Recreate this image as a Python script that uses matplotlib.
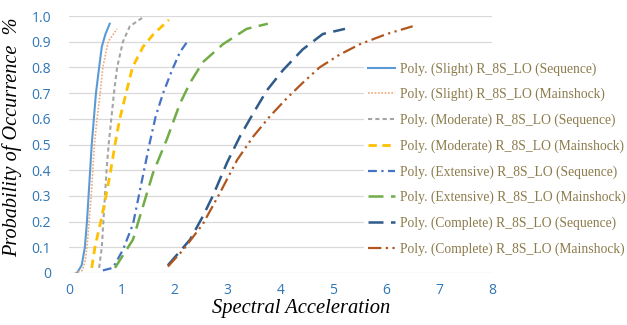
import matplotlib
matplotlib.use('Agg')
import matplotlib.pyplot as plt

# values (spectral acceleration vs probability)
slight_seq_x = [0.15, 0.24, 0.30, 0.34, 0.37, 0.40, 0.43, 0.47, 0.51, 0.57, 0.62, 0.69, 0.77]
slight_seq_y = [0.00, 0.03, 0.10, 0.20, 0.30, 0.40, 0.50, 0.60, 0.70, 0.80, 0.88, 0.93, 0.97]
slight_main_x = [0.11, 0.25, 0.30, 0.34, 0.38, 0.42, 0.45, 0.48, 0.53, 0.59, 0.64, 0.74, 0.91]
slight_main_y = [0.00, 0.01, 0.04, 0.10, 0.20, 0.30, 0.40, 0.50, 0.60, 0.70, 0.80, 0.90, 0.95]
mod_seq_x = [0.57, 0.62, 0.65, 0.68, 0.71, 0.75, 0.80, 0.85, 0.91, 1.02, 1.15, 1.40]
mod_seq_y = [0.02, 0.10, 0.20, 0.30, 0.40, 0.50, 0.60, 0.70, 0.80, 0.90, 0.96, 0.995]
mod_main_x = [0.43, 0.49, 0.60, 0.70, 0.79, 0.87, 0.96, 1.08, 1.20, 1.40, 1.60, 1.89]
mod_main_y = [0.02, 0.10, 0.20, 0.30, 0.40, 0.50, 0.60, 0.70, 0.80, 0.88, 0.93, 0.985]
ext_seq_x = [0.64, 0.83, 1.02, 1.21, 1.32, 1.43, 1.53, 1.64, 1.78, 1.95, 2.10, 2.27]
ext_seq_y = [0.01, 0.02, 0.09, 0.19, 0.30, 0.41, 0.51, 0.61, 0.70, 0.79, 0.86, 0.91]
ext_main_x = [0.87, 1.21, 1.40, 1.59, 1.85, 2.10, 2.29, 2.53, 2.91, 3.36, 3.76]
ext_main_y = [0.02, 0.13, 0.26, 0.39, 0.52, 0.66, 0.74, 0.82, 0.89, 0.95, 0.97]
comp_seq_x = [1.87, 2.29, 2.53, 2.72, 2.99, 3.23, 3.48, 3.74, 4.05, 4.42, 4.80, 5.22]
comp_seq_y = [0.03, 0.13, 0.22, 0.30, 0.43, 0.53, 0.62, 0.71, 0.79, 0.87, 0.93, 0.95]
comp_main_x = [1.87, 2.16, 2.53, 2.85, 3.18, 3.48, 3.80, 4.12, 4.42, 4.74, 5.12, 5.50, 6.01, 6.50]
comp_main_y = [0.025, 0.09, 0.19, 0.31, 0.44, 0.53, 0.61, 0.68, 0.74, 0.80, 0.85, 0.89, 0.93, 0.96]

labels = ['Poly. (Slight) R_8S_LO (Sequence)',
          'Poly. (Slight) R_8S_LO (Mainshock)',
          'Poly. (Moderate) R_8S_LO (Sequence)',
          'Poly. (Moderate) R_8S_LO (Mainshock)',
          'Poly. (Extensive) R_8S_LO (Sequence)',
          'Poly. (Extensive) R_8S_LO (Mainshock)',
          'Poly. (Complete) R_8S_LO (Sequence)',
          'Poly. (Complete) R_8S_LO (Mainshock)']

xticks = [0, 1, 2, 3, 4, 5, 6, 7, 8]
yticks = [0, 0.1, 0.2, 0.3, 0.4, 0.5, 0.6, 0.7, 0.8, 0.9, 1.0]
yticklabels = ['0', '0.1', '0.2', '0.3', '0.4', '0.5', '0.6', '0.7', '0.8', '0.9', '1.0']

series = [
    (slight_seq_x, slight_seq_y, '#5B9BD5', '-', 1.5),
    (slight_main_x, slight_main_y, '#F0A878', (0, (1, 1)), 1.2),
    (mod_seq_x, mod_seq_y, '#A5A5A5', (0, (2, 1.5)), 1.5),
    (mod_main_x, mod_main_y, '#FFC000', (0, (3, 2)), 2.0),
    (ext_seq_x, ext_seq_y, '#4472C4', (0, (4, 2, 1, 2)), 1.6),
    (ext_main_x, ext_main_y, '#70AD47', (0, (6, 3)), 1.8),
    (comp_seq_x, comp_seq_y, '#2F5B8A', (0, (6, 3)), 1.8),
    (comp_main_x, comp_main_y, '#B0561E', (0, (6, 2, 1, 2, 1, 2)), 1.6),
]

fig = plt.figure(figsize=(6.27, 3.25), dpi=100, facecolor='white')
ax = fig.add_axes([69/627., 1-273/325., (492-69)/627., (273-16)/325.])

for (xs, ys, c, ls, lw), lab in zip(series, labels):
    ax.plot(xs, ys, color=c, linestyle=ls, linewidth=lw, label=lab)

ax.set_xlim(0, 8)
ax.set_ylim(0, 1.0)
ax.set_xticks(xticks)
ax.set_yticks(yticks)
ax.set_yticklabels(yticklabels)
ax.grid(axis='y', color='#D9D9D9', linewidth=0.9)
ax.set_axisbelow(True)
for s in ax.spines.values():
    s.set_visible(False)
ax.tick_params(length=0, colors='#2E75B6', labelsize=10)
ax.tick_params(axis='x', pad=7)
ax.tick_params(axis='y', pad=13)
for t in ax.get_xticklabels() + ax.get_yticklabels():
    t.set_family('Open Sans')

ax.set_xlabel('Spectral Acceleration', family='Liberation Serif', style='italic',
              fontsize=14.8, color='black')
ax.xaxis.set_label_coords(0.548, -0.1)
ax.set_ylabel('Probability of Occurrence  %', family='Liberation Serif', style='italic',
              fontsize=14.6, color='black')
ax.yaxis.set_label_coords(-0.112, 0.53)

leg = ax.legend(loc='upper left', bbox_to_anchor=(364/627., 1-58/325.),
                bbox_transform=fig.transFigure, frameon=True, fontsize=9.8,
                labelspacing=0.9, handlelength=2.0, handletextpad=0.35,
                borderpad=0.3, borderaxespad=0)
leg.get_frame().set_facecolor('white')
leg.get_frame().set_edgecolor('none')
leg.get_frame().set_alpha(1)
for t in leg.get_texts():
    t.set_color('#8C7B4C')
    t.set_family('Liberation Serif')

fig.savefig('out.png', dpi=100, facecolor='white')
